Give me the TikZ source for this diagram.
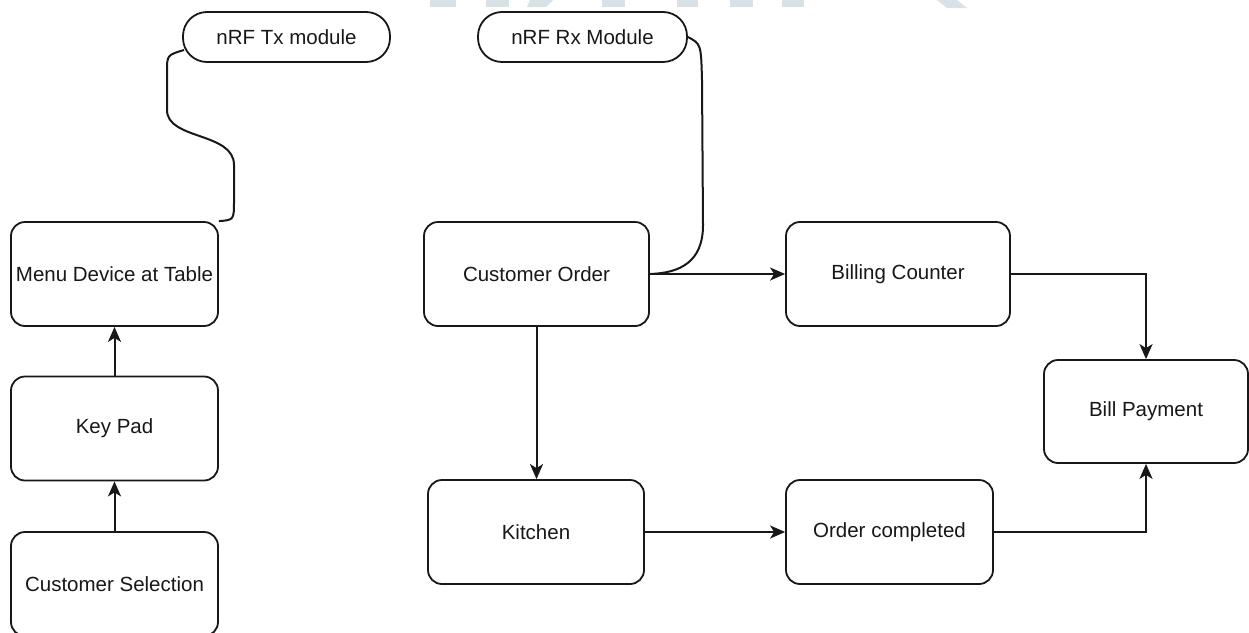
\documentclass[tikz,border=0pt]{standalone}
\usepackage{fontspec}
\setmainfont{Liberation Sans}
\usetikzlibrary{arrows.meta,calc}

\definecolor{ink}{RGB}{24,24,24}
\definecolor{bannergrey}{RGB}{216,225,230}

\tikzset{
  box/.style={draw=ink, line width=1.8pt, rounded corners=14pt, fill=white,
              minimum width=207pt, minimum height=104pt, inner sep=0pt,
              font=\fontsize{20.5}{24}\selectfont, text=ink},
  pill/.style={box, rounded corners=24pt, minimum height=50pt},
  link/.style={draw=ink, line width=2pt},
  arr/.style={link, -{Stealth[length=15pt,width=13pt,inset=4pt]}},
  banner/.style={fill=bannergrey}
}

\begin{document}
\begin{tikzpicture}[x=1pt,y=-1pt]
  \useasboundingbox (0,0) rectangle (1249,632);
  \fill[white] (0,0) rectangle (1249,632);

  % faint banner marks along the top edge
  \fill[banner] (430,0) rectangle (456,7);
  \fill[banner] (486,0) rectangle (509,7);
  \fill[banner] (530,0) -- (553,0) -- (546,7) -- (527,7) -- cycle;
  \fill[banner] (602,0) rectangle (625,7);
  \fill[banner] (677,0) rectangle (698,7);
  \fill[banner] (730,0) rectangle (753,7);
  \fill[banner] (782,0) rectangle (804,7);
  \fill[banner] (937,0) -- (957,0) -- (967,8) -- (947,8) -- cycle;

  % radio modules
  \node[pill] (tx) at (286.5,37) {nRF Tx module};
  \node[pill, minimum width=209pt] (rx) at (582.5,37) {nRF Rx Module};

  % table side
  \node[box] (menu) at (114.5,274) {Menu Device at Table};
  \node[box] (keys) at (114.5,428.5) {Key Pad};
  \node[box] (sel) at (114.5,584) {Customer Selection};

  % restaurant side
  \node[box, minimum width=225pt] (order) at (536.5,274) {Customer Order};
  \node[box, minimum width=224pt] (billing) at (898,274) {Billing Counter};
  \node[box, minimum width=204pt, minimum height=103pt] (pay) at (1146,411.5) {Bill Payment};
  \node[box, minimum width=216pt] (kitchen) at (536,532) {Kitchen};
  \node[box] (done) at (889.5,532) {Order completed};

  % wireless links
  \coordinate (txend) at ($(tx.west)+(2,13)$);
  \draw[link] (menu.north east) .. controls (234,220) .. (234,200)
    -- (234,165) .. controls (234,132) and (167,140) .. (167,110)
    -- (167,72) .. controls (167,55) .. (txend);
  \draw[link] (rx.east) .. controls (701,44) .. (702,80)
    -- (703,225) .. controls (703,262) and (680,273) .. (order.east);

  % flow
  \draw[arr] (sel.north) -- (keys.south);
  \draw[arr] (keys.north) -- (menu.south);
  \draw[arr] (order.east) -- (billing.west);
  \draw[arr] (order.south) -- (kitchen.north -| order.south);
  \draw[arr] (kitchen.east) -- (done.west);
  \draw[arr] (billing.east) -| (pay.north);
  \draw[arr] (done.east) -| (pay.south);
\end{tikzpicture}
\end{document}
